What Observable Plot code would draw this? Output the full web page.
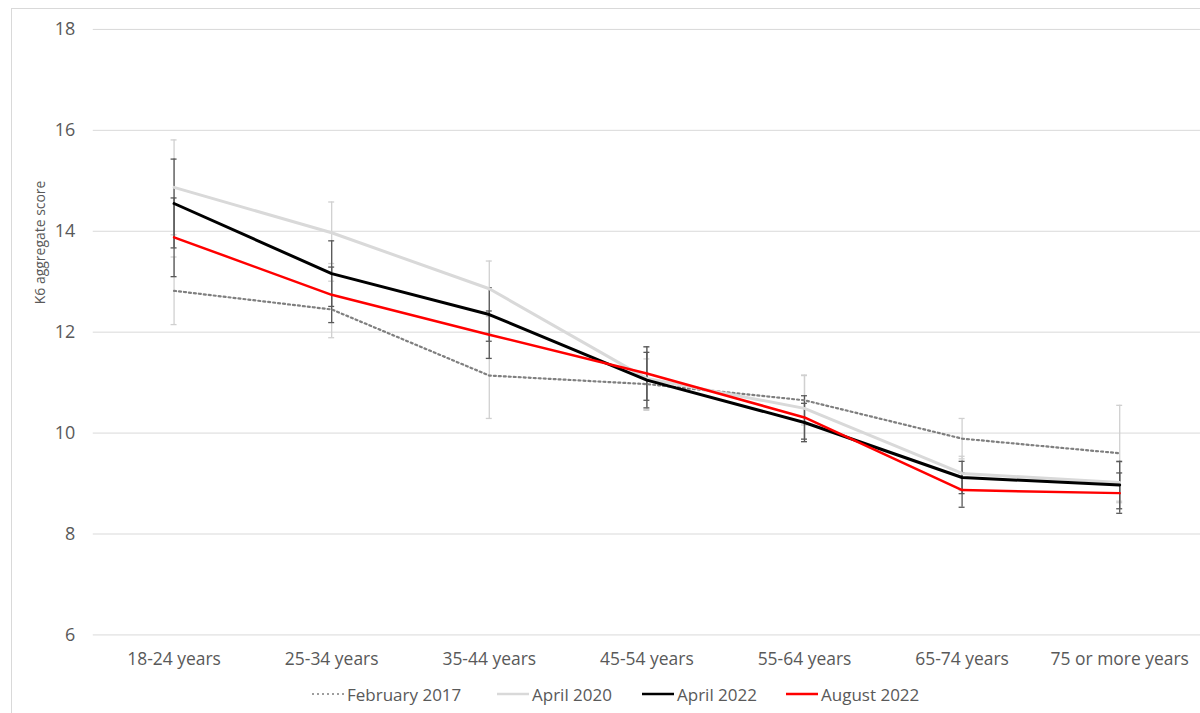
<!DOCTYPE html>
<html>
<head>
<meta charset="utf-8">
<script src="https://cdn.jsdelivr.net/npm/d3@7"></script>
<script src="https://cdn.jsdelivr.net/npm/@observablehq/plot@0.6"></script>
<style>
  html, body { margin: 0; padding: 0; background: #fff; overflow: hidden; width: 1200px; height: 713px; }
  #frame { position: absolute; left: 11px; top: 8px; width: 1200px; height: 720px; border: 1px solid #d9d9d9; box-sizing: border-box; }
  #chart { position: absolute; left: 0; top: 0; }
  #legend { position: absolute; left: 0; top: 675px; width: 1200px; height: 38px; font-family: "Open Sans", "Liberation Sans", sans-serif; font-size: 17px; color: #595959; }
  .item { position: absolute; top: 0; height: 38px; display: flex; align-items: center; white-space: nowrap; }
  .item svg { margin-right: 3px; }
</style>
</head>
<body>
<div id="frame"></div>
<div id="chart"></div>
<div id="legend"></div>
<script>
const categories = ["18-24 years", "25-34 years", "35-44 years", "45-54 years", "55-64 years", "65-74 years", "75 or more years"];
const seriesNames = ["February 2017", "April 2020", "April 2022", "August 2022"];
const feb2017 = [12.82, 12.45, 11.14, 10.97, 10.65, 9.89, 9.60];
const apr2020 = [14.87, 13.97, 12.86, 11.08, 10.49, 9.20, 9.02];
const apr2022 = [14.55, 13.16, 12.35, 11.05, 10.21, 9.12, 8.97];
const aug2022 = [13.88, 12.74, 11.95, 11.18, 10.31, 8.87, 8.81];
const feb2017Err = [0.67, 0.56, 0.85, 0.50, 0.49, 0.40, 0.95];
const apr2020Err = [0.94, 0.61, 0.55, 0.63, 0.66, 0.34, 0.40];
const apr2022Err = [0.88, 0.65, 0.53, 0.55, 0.38, 0.32, 0.47];
const aug2022Err = [0.78, 0.55, 0.47, 0.53, 0.43, 0.34, 0.40];
const yTicks = [6, 8, 10, 12, 14, 16, 18];

const values = [feb2017, apr2020, apr2022, aug2022];
const errs = [feb2017Err, apr2020Err, apr2022Err, aug2022Err];
const rows = [];
seriesNames.forEach((s, si) => {
  categories.forEach((c, i) => {
    rows.push({series: s, cat: c, v: values[si][i], lo: values[si][i] - errs[si][i], hi: values[si][i] + errs[si][i]});
  });
});
const bySeries = s => rows.filter(d => d.series === s);

const styles = {
  "February 2017": {stroke: "#7f7f7f", strokeWidth: 2.2, strokeDasharray: "2,3", err: "#d0d0d0"},
  "April 2020": {stroke: "#d9d9d9", strokeWidth: 3, err: "#d0d0d0"},
  "April 2022": {stroke: "#000000", strokeWidth: 3, err: "#595959"},
  "August 2022": {stroke: "#ff0000", strokeWidth: 2.5, err: "#595959"}
};

const marks = [Plot.gridY(yTicks, {stroke: "#d9d9d9", strokeOpacity: 1, strokeWidth: 1})];
seriesNames.forEach(s => {
  const st = styles[s];
  marks.push(Plot.ruleX(bySeries(s), {x: "cat", y1: "lo", y2: "hi", stroke: st.err, strokeWidth: 1.3}));
  marks.push(Plot.tickY(bySeries(s), {x: "cat", y: "lo", stroke: st.err, strokeWidth: 1.3, insetLeft: 76, insetRight: 76}));
  marks.push(Plot.tickY(bySeries(s), {x: "cat", y: "hi", stroke: st.err, strokeWidth: 1.3, insetLeft: 76, insetRight: 76}));
});
seriesNames.forEach(s => {
  const st = styles[s];
  marks.push(Plot.line(bySeries(s), {x: "cat", y: "v", stroke: st.stroke, strokeWidth: st.strokeWidth, strokeDasharray: st.strokeDasharray, curve: "linear", strokeLinejoin: "round"}));
});
marks.push(Plot.axisY(yTicks, {tickSize: 0, tickPadding: 18, fontSize: 18, fill: "#595959", label: null, tickFormat: d3.format("d")}));
marks.push(Plot.axisX({tickSize: 0, tickPadding: 18, fontSize: 17.5, fill: "#595959", label: null}));

const chart = Plot.plot({
  width: 1203,
  height: 675,
  marginLeft: 93,
  marginRight: 0,
  marginTop: 29,
  marginBottom: 39,
  style: {fontFamily: "'Open Sans', 'Liberation Sans', sans-serif", background: "transparent", overflow: "visible"},
  x: {type: "band", domain: categories, padding: 0, align: 0.5},
  y: {domain: [6, 18]},
  marks
});
document.getElementById("chart").appendChild(chart);

// y-axis title
d3.select(chart).append("text")
  .attr("transform", "translate(41,243) rotate(-90)")
  .attr("text-anchor", "middle")
  .attr("dominant-baseline", "middle")
  .attr("fill", "#595959")
  .attr("font-size", 14)
  .attr("font-family", "'Open Sans', 'Liberation Sans', sans-serif")
  .text("K6 aggregate score");

// legend
const legendPos = [312, 497, 642, 786];
const legend = document.getElementById("legend");
seriesNames.forEach((s, i) => {
  const st = styles[s];
  const item = document.createElement("div");
  item.className = "item";
  item.style.left = legendPos[i] + "px";
  item.innerHTML = `<svg width="32" height="10"><line x1="0" y1="5" x2="32" y2="5" stroke="${st.stroke}" stroke-width="${s === "February 2017" ? 1.6 : 2.5}" ${st.strokeDasharray ? 'stroke-dasharray="2,3"' : ''}/></svg><span>${s}</span>`;
  legend.appendChild(item);
});
</script>
</body>
</html>
